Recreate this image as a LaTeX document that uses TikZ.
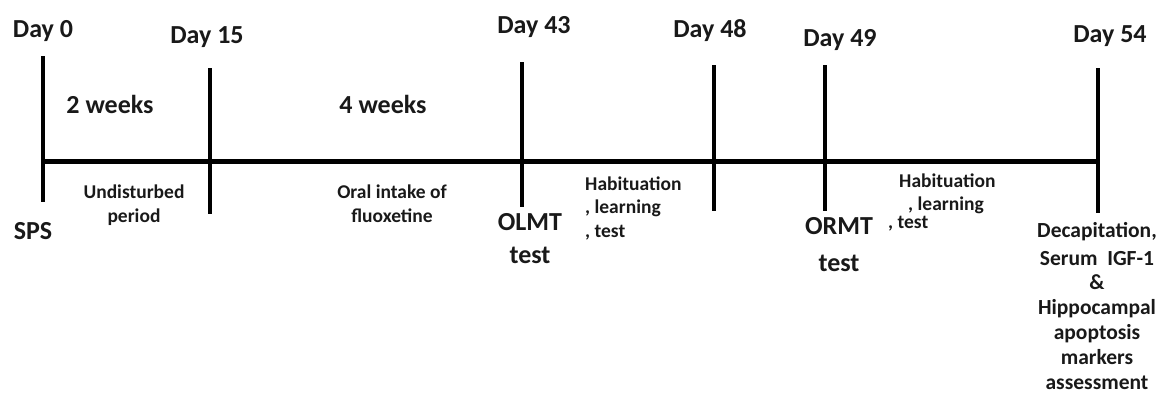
\documentclass[tikz,border=0pt]{standalone}
\usepackage{fontspec}
\setmainfont{Carlito}
\begin{document}
\begin{tikzpicture}[x=1pt,y=-1pt,
  axis/.style={line width=5pt, black},
  tick/.style={line width=4pt, black},
  big/.style={font=\fontsize{26}{30}\selectfont\bfseries, inner sep=0pt, anchor=base, text=black!90},
  note/.style={font=\fontsize{19.5}{23.5}\selectfont\bfseries, inner sep=0pt, anchor=base, align=center, text=black!90},
  final/.style={font=\fontsize{21.5}{24.8}\selectfont\bfseries, inner sep=0pt, anchor=base, align=center, text=black!90}]
\useasboundingbox (0,0) rectangle (1160,394);
% tick ends
\coordinate (t0a) at (43,56);   \coordinate (t0b) at (43,202);
\coordinate (t15a) at (210,68); \coordinate (t15b) at (210,214);
\coordinate (t43a) at (522,62); \coordinate (t43b) at (522,207);
\coordinate (t48a) at (714,65); \coordinate (t48b) at (714,211);
\coordinate (t49a) at (825,65); \coordinate (t49b) at (825,211);
\coordinate (t54a) at (1098,68);\coordinate (t54b) at (1098,213);
\coordinate (L) at (42,161); \coordinate (R) at (1098,161);
\draw[axis] (L) -- (R);
\draw[tick] (t0a) -- (t0b);
\draw[tick] (t15a) -- (t15b);
\draw[tick] (t43a) -- (t43b);
\draw[tick] (t48a) -- (t48b);
\draw[tick] (t49a) -- (t49b);
\draw[tick] (t54a) -- (t54b);
% day labels
\node[big] (d0) at (43,37) {Day 0};
\node[big] (d15) at (207,43) {Day 15};
\node[big] (d43) at (534,33) {Day 43};
\node[big] (d48) at (710,37) {Day 48};
\node[big] (d49) at (840,46) {Day 49};
\node[big] (d54) at (1110,42) {Day 54};
\node[big] (w2) at (110,113) {2 weeks};
\node[big] (w4) at (383,113) {4 weeks};
\node[big] (sps) at (33,239) {SPS};
\node[note] (und) at (134,222) {Undisturbed\\period};
\node[note] (oral) at (392,222) {Oral intake of\\fluoxetine};
\node[big, align=center, font=\fontsize{26}{33}\selectfont\bfseries] (olmt) at (530,263) {OLMT\\test};
\node[note, align=left, anchor=base west] (hab1) at (585,237) {Habituation\\, learning\\, test};
\node[note, align=left, anchor=base west] (hab2) at (888,228) {\hspace{11pt}Habituation\\\hspace{20pt}, learning\\[-6pt], test};
\node[big, align=center, font=\fontsize{26}{37}\selectfont\bfseries] (ormt) at (839,271) {ORMT\\test};
\node[final] (fin) at (1097,389) {Decapitation,\\[3pt]Serum\ \ IGF-1\\\&\\Hippocampal\\apoptosis\\markers\\assessment};
\end{tikzpicture}
\end{document}
